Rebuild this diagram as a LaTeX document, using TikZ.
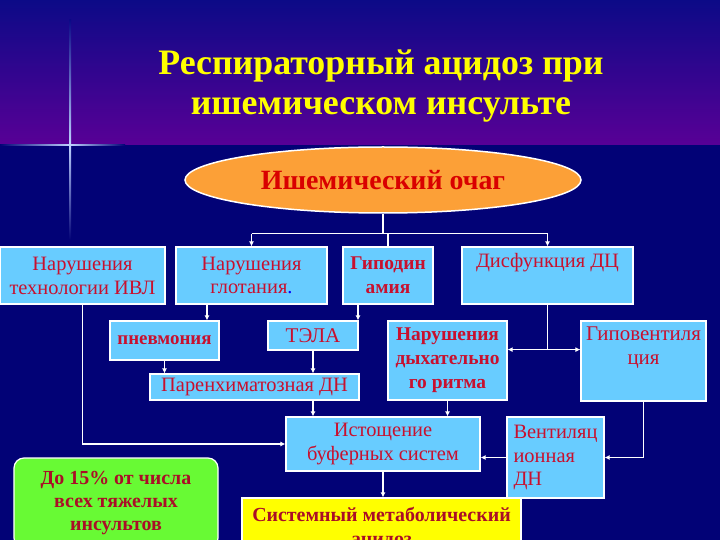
\documentclass[tikz,border=0pt]{standalone}
\usepackage{fontspec}
\setmainfont{Liberation Serif}
\newfontfamily\tnr{Liberation Serif}
\usetikzlibrary{arrows.meta,shapes.geometric}
\definecolor{bgtop}{RGB}{12,10,135}
\definecolor{bgmid}{RGB}{88,0,150}
\definecolor{bgnavy}{RGB}{2,2,118}
\definecolor{glow}{RGB}{190,210,255}
\definecolor{boxblue}{RGB}{104,204,255}
\definecolor{ellorange}{RGB}{252,160,55}
\definecolor{txtred}{RGB}{200,16,46}
\definecolor{ttlyellow}{RGB}{255,255,0}
\definecolor{greenbox}{RGB}{104,250,52}
\definecolor{sysyellow}{RGB}{255,255,0}
\tikzset{
  x=1bp, y=-1bp,
  boxnode/.style={draw=white, line width=1.2bp, fill=boxblue, text=txtred, align=center,
    inner sep=2bp, font=\tnr\fontsize{20.5}{24}\selectfont},
  boldnode/.style={boxnode, font=\tnr\fontsize{19.5}{24}\selectfont\bfseries},
  conn/.style={draw=white, line width=1.3bp},
  arr/.style={conn, -{Latex[length=5bp,width=5bp]}},
}
\begin{document}
\begin{tikzpicture}
\useasboundingbox (0,0) rectangle (720,540);
% background
\shade[top color=bgtop, bottom color=bgmid] (0,0) rectangle (720,145);
\fill[bgnavy] (0,145) rectangle (720,540);
% glow cross
\shade[left color=bgnavy, right color=glow] (0,144.2) rectangle (70,146);
\shade[left color=glow, right color=bgnavy] (70,144.2) rectangle (125,146);
\shade[top color=bgtop, bottom color=glow] (69.3,20) rectangle (71,145);
\shade[top color=glow, bottom color=bgnavy] (69.3,145) rectangle (71,240);
% title
\node[text=ttlyellow, font=\tnr\fontsize{36}{41}\selectfont\bfseries, align=center]
  (title) at (381,86) {Респираторный ацидоз при\\ишемическом инсульте};
% ellipse
\node[ellipse, draw=white, line width=1.5bp, fill=ellorange, minimum width=396bp,
  minimum height=66bp, text=red!85!black, font=\tnr\fontsize{28}{30}\selectfont\bfseries]
  (ell) at (383,180) {Ишемический очаг};
% boxes
\node[boxnode, minimum width=165bp, minimum height=57bp] (ivl) at (82.5,275.5) {Нарушения\\технологии ИВЛ};
\node[boxnode, minimum width=151bp, minimum height=57bp] (glot) at (251.5,275.5) {Нарушения\\глотания{\color{blue}.}};
\node[boldnode, minimum width=90bp, minimum height=57bp] (gipo) at (388,275.5) {Гиподин\\амия};
\node[boxnode, minimum width=171bp, minimum height=57bp] (disf) at (547.5,275.5) {Дисфункция ДЦ\\\strut};
\node[boldnode, minimum width=109bp, minimum height=39bp, font=\tnr\fontsize{19}{22}\selectfont\bfseries] (pnev) at (164.5,340.5) {пневмония};
\node[boxnode, minimum width=90bp, minimum height=29bp, font=\tnr\fontsize{21}{24}\selectfont] (tela) at (313,335.5) {ТЭЛА};
\node[boxnode, minimum width=209bp, minimum height=26bp] (paren) at (254.5,387) {Паренхиматозная ДН};
\node[boldnode, minimum width=119bp, minimum height=79bp] (ritm) at (447.5,360.5) {Нарушения\\дыхательно\\го ритма};
\node[boxnode, minimum width=125bp, minimum height=80bp, font=\tnr\fontsize{21}{24}\selectfont] (gipov) at (643.5,361) {Гиповентиля\\ция\\\strut};
\node[boxnode, minimum width=194bp, minimum height=54bp] (ist) at (383,444) {Истощение\\буферных систем};
\node[boxnode, minimum width=97bp, minimum height=81bp, align=left] (vent) at (555.5,457.5) {Вентиляц\\ионная\\ДН};
\node[draw=white, line width=1.2bp, fill=sysyellow, text=txtred!85!black, align=center,
  minimum width=279bp, minimum height=60bp, font=\tnr\fontsize{20}{24}\selectfont\bfseries]
  (sist) at (381.5,528) {Системный метаболический\\ацидоз};
\node[draw=white, line width=1.2bp, fill=greenbox, rounded corners=10bp, text=txtred!85!black, align=center,
  minimum width=204bp, minimum height=90bp, font=\tnr\fontsize{20}{23}\selectfont\bfseries]
  (green) at (116,503) {До 15\% от числа\\всех тяжелых\\инсультов};
% connectors
\draw[conn] (ell.south) -- ++(0,20) coordinate (j);
\draw[conn] (glot.north |- j) -- (disf.north |- j);
\draw[arr] (glot.north |- j) -- (glot.north);
\draw[arr] (disf.north |- j) -- (disf.north);
\draw[conn] (gipo.north |- j) -- (gipo.north);
\draw[arr] (ivl.south) |- (ist.west);
\draw[arr] ([xshift=-44.5bp]glot.south) -- ([xshift=-44.5bp]glot.south |- pnev.north);
\draw[arr] ([xshift=-30bp]gipo.south) -- ([xshift=-30bp]gipo.south |- tela.north);
\draw[arr] (pnev.south) -- (pnev.south |- paren.north);
\draw[arr] (tela.south) -- (tela.south |- paren.north);
\draw[arr] (tela.south |- paren.south) -- (tela.south |- ist.north);
\draw[arr] (ritm.south) -- (ritm.south |- ist.north);
\draw[conn] (disf.south) -- ++(0,45) coordinate (d);
\draw[arr] (d) -- (d -| ritm.east);
\draw[arr] (d) -- (d -| gipov.west);
\draw[arr] (gipov.south) |- (vent.east);
\draw[arr] (vent.west) -- (vent.west -| ist.east);
\draw[arr] (ist.south) -- (ist.south |- sist.north);
\end{tikzpicture}
\end{document}
